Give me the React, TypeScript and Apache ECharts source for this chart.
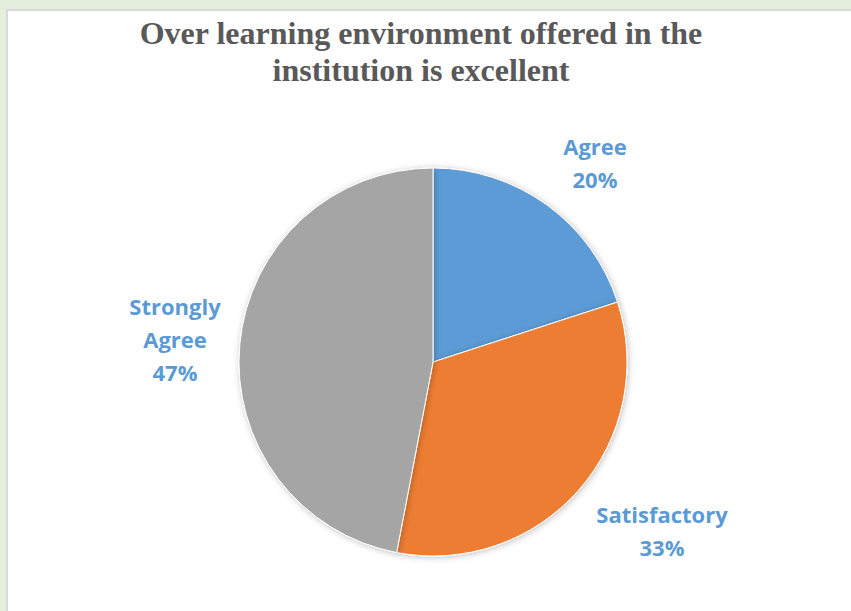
import React, { useEffect, useRef } from "react";
import * as echarts from "echarts";

const titleLines = ["Over learning environment offered in the", "institution is excellent"];
const categories = ["Agree", "Satisfactory", "Strongly Agree"];
const values = [20, 33, 47];
const colors = ["#5b9bd5", "#ed7d31", "#a5a5a5"];
const labelLines = [["Agree", "20%"], ["Satisfactory", "33%"], ["Strongly", "Agree", "47%"]];
const labelPos = [[595, 162], [662, 530], [175, 339]];

export default function App() {
  const ref = useRef<HTMLDivElement>(null);
  useEffect(() => {
    const chart = echarts.init(ref.current!, null, { renderer: "svg" });
    chart.setOption({
      animation: false,
      backgroundColor: "#e2efda",
      graphic: [
        {
          type: "rect",
          z: -10,
          shape: { x: 7, y: 10, width: 900, height: 700 },
          style: { fill: "#ffffff", stroke: "#d9d9d9", lineWidth: 2 },
        },
      ],
      title: {
        text: titleLines.join("\n"),
        left: 416,
        top: 9,
        textAlign: "center",
        textStyle: {
          fontFamily: "Liberation Serif",
          fontWeight: "bold",
          fontSize: 32,
          lineHeight: 37,
          color: "#595959",
        },
      },
      series: [
        {
          type: "pie",
          center: [433, 362],
          radius: 194,
          startAngle: 90,
          clockwise: true,
          data: categories.map((c, i) => ({
            name: c,
            value: values[i],
            itemStyle: { color: colors[i] },
          })),
          itemStyle: {
            borderColor: "#ffffff",
            borderWidth: 1,
            shadowColor: "rgba(0,0,0,0.25)",
            shadowBlur: 6,
            shadowOffsetX: 1,
            shadowOffsetY: 1,
          },
          label: {
            show: true,
            position: "outside",
            formatter: (p: any) => labelLines[p.dataIndex].join("\n"),
            fontFamily: "Open Sans",
            fontWeight: "bold",
            fontSize: 22,
            lineHeight: 33,
            color: "#5b9bd5",
            align: "center",
          },
          labelLine: { show: false },
          labelLayout: (p: any) => ({
            x: labelPos[p.dataIndex][0],
            y: labelPos[p.dataIndex][1],
            align: "center",
            verticalAlign: "middle",
          }),
        },
      ],
    });
    return () => chart.dispose();
  }, []);
  return (
    <div
      ref={ref}
      style={{ position: "fixed", left: 0, top: 0, width: 851, height: 611 }}
    />
  );
}
